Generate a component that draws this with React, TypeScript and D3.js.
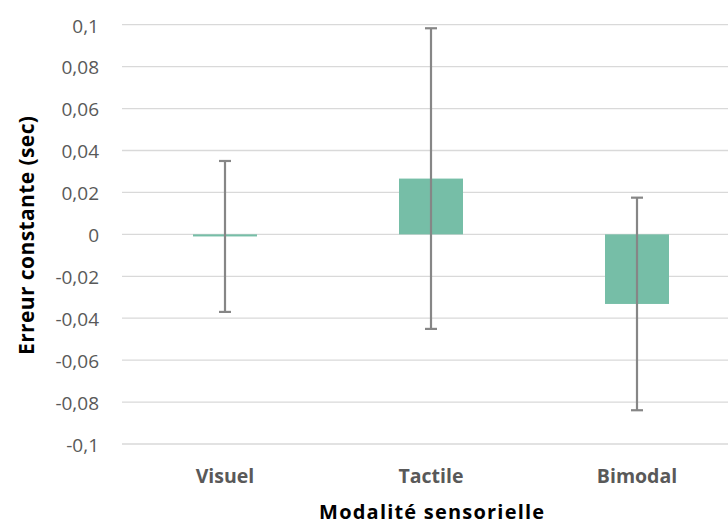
import React from "react";
import * as d3 from "d3";

const categories = ["Visuel", "Tactile", "Bimodal"];
const means = [-0.001, 0.0266, -0.0332];
const errors = [0.036, 0.0717, 0.0507];
const yTicks = [-0.1, -0.08, -0.06, -0.04, -0.02, 0, 0.02, 0.04, 0.06, 0.08, 0.1];

const W = 728;
const H = 525;
const FONT = "'Open Sans', 'Noto Sans', sans-serif";

const fmt = (v: number) => {
  if (Math.abs(v) < 1e-9) return "0";
  const s = d3.format("~g")(+Math.abs(v).toFixed(2)).replace(".", ",");
  return (v < 0 ? "-" : "") + s;
};

export default function App() {
  const x = d3.scaleBand<string>().domain(categories).range([122, 740]).paddingInner(0.69).paddingOuter(0.345);
  const y = d3.scaleLinear().domain([-0.1, 0.1]).range([444, 24.7]);
  const bw = 64;
  return (
    <svg width={W} height={H} style={{ position: "absolute", left: 0, top: 0, background: "#fff" }}>
      {yTicks.map((t) => (
        <g key={t}>
          <line x1={122} x2={W} y1={y(t)} y2={y(t)} stroke="#d9d9d9" strokeWidth={1.3} />
          <text x={99} y={y(t) + 7.8} textAnchor="end" fontFamily={FONT} fontSize={19} fill="#595959">
            {fmt(t)}
          </text>
        </g>
      ))}
      {categories.map((c, i) => {
        const cx = (x(c) as number) + x.bandwidth() / 2;
        const v = means[i];
        const y0 = y(0);
        const y1 = y(v);
        return (
          <g key={c}>
            <rect x={cx - bw / 2} width={bw} y={Math.min(y0, y1)} height={Math.max(Math.abs(y1 - y0), 1.5)} fill="#76bea7" />
            <line x1={cx} x2={cx} y1={y(v + errors[i])} y2={y(v - errors[i])} stroke="#868686" strokeWidth={2.2} />
            <line x1={cx - 6} x2={cx + 6} y1={y(v + errors[i])} y2={y(v + errors[i])} stroke="#868686" strokeWidth={2.2} />
            <line x1={cx - 6} x2={cx + 6} y1={y(v - errors[i])} y2={y(v - errors[i])} stroke="#868686" strokeWidth={2.2} />
            <text x={cx} y={483} textAnchor="middle" fontFamily={FONT} fontWeight="bold" fontSize={19.5} fill="#595959">
              {c}
            </text>
          </g>
        );
      })}
      <text x={431.6} y={518.5} textAnchor="middle" fontFamily={FONT} fontWeight="bold" fontSize={20} fill="#000" textLength={225} lengthAdjust="spacing">
        Modalité sensorielle
      </text>
      <text transform="translate(33.5,235.5) rotate(-90)" textAnchor="middle" fontFamily={FONT} fontWeight="bold" fontSize={21} fill="#000" textLength={239} lengthAdjust="spacing">
        Erreur constante (sec)
      </text>
    </svg>
  );
}
